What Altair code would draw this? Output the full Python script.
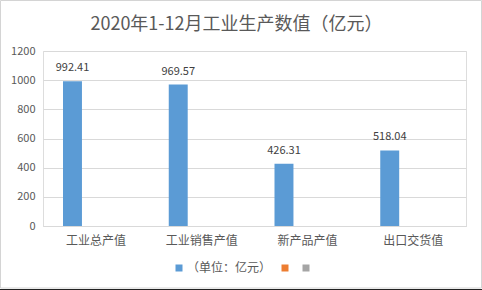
import altair as alt
import pandas as pd

categories = ["工业总产值", "工业销售产值", "新产品产值", "出口交货值"]
values = [992.41, 969.57, 426.31, 518.04]
series_names = ["（单位：亿元）", "系列2", "系列3"]
series_colors = ["#5b9bd5", "#ed7d31", "#a5a5a5"]
y_ticks = [0, 200, 400, 600, 800, 1000, 1200]
title_text = "2020年1-12月工业生产数值（亿元）"

FONT = "Noto Sans CJK SC"
W, H = 423, 175

df = pd.DataFrame({"category": categories, "value": values, "series": series_names[0]})
df["label"] = df["value"].map(lambda v: f"{v:.2f}")

x = alt.X("category:N", sort=categories,
          scale=alt.Scale(paddingInner=0, paddingOuter=0),
          axis=alt.Axis(title=None, labelAngle=0, labelFontSize=12, labelColor="#595959",
                        labelPadding=9, ticks=False, domainColor="#d9d9d9", labelFont=FONT,
                        grid=False))
xo = alt.XOffset("series:N", scale=alt.Scale(domain=series_names, paddingInner=0.19, paddingOuter=0.855))
y = alt.Y("value:Q", scale=alt.Scale(domain=[0, 1200]),
          axis=alt.Axis(values=y_ticks, title=None, domain=False, ticks=False, format="d",
                        gridColor="#d9d9d9", labelFontSize=11, labelColor="#595959",
                        labelPadding=8, labelFont=FONT))

color = alt.Color("series:N",
                  scale=alt.Scale(domain=series_names, range=series_colors),
                  legend=alt.Legend(title=None, orient="none", legendX=130, legendY=211,
                                    direction="horizontal", symbolType="square", symbolSize=49,
                                    symbolStrokeWidth=0, labelFontSize=12, labelColor="#595959",
                                    labelFont=FONT, labelOffset=2, columnPadding=7,
                                    labelExpr=f"datum.label == '{series_names[0]}' ? datum.label : ''"))

bars = alt.Chart(df).mark_bar().encode(x=x, xOffset=xo, y=y, color=color)
labels = alt.Chart(df).mark_text(dy=-13, fontSize=11, color="#404040", font=FONT).encode(
    x=x, xOffset=xo, y=y, text="label:N")

frame = alt.Chart(pd.DataFrame({"a": [0]})).mark_rect(fill=None, stroke="#d4d4d4", strokeWidth=1).encode(
    x=alt.value(-42.5), x2=alt.value(W + 15.5), y=alt.value(-50.5), y2=alt.value(H + 62))
bottom = alt.Chart(pd.DataFrame({"a": [0]})).mark_rule(stroke="#222222", strokeWidth=2).encode(
    x=alt.value(-43), x2=alt.value(W + 16), y=alt.value(H + 64))

chart = alt.layer(frame, bottom, bars, labels).properties(
    width=W, height=H,
    title=alt.TitleParams(title_text, fontSize=18, font=FONT, color="#595959", fontWeight="normal",
                          anchor="middle", dx=-18, offset=-34),
    autosize=alt.AutoSizeParams(type="none"),
    padding={"left": 43, "top": 51, "right": 16, "bottom": 64},
).configure_view(stroke=None).configure(background="white")

chart.save("out.html", embed_options={"renderer": "svg", "actions": False})
